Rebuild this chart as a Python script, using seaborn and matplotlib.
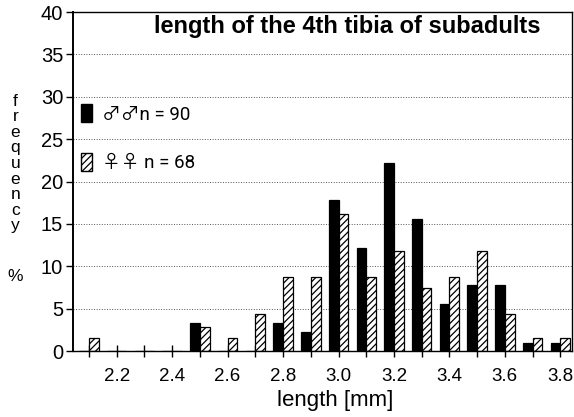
import numpy as np
import pandas as pd
import seaborn as sns
import matplotlib.pyplot as plt
from matplotlib.patches import Patch

# --- data (percent of each sex per length class) ---
bins = ['2.1', '2.2', '2.3', '2.4', '2.5', '2.6', '2.7', '2.8', '2.9',
        '3.0', '3.1', '3.2', '3.3', '3.4', '3.5', '3.6', '3.7', '3.8']
males = [0, 0, 0, 0, 3.3, 0, 0, 3.3, 2.2, 17.8, 12.2, 22.2, 15.6, 5.6, 7.8, 7.8, 1.0, 1.0]
females = [1.5, 0, 0, 0, 2.9, 1.5, 4.4, 8.8, 8.8, 16.2, 8.8, 11.8, 7.4, 8.8, 11.8, 4.4, 1.5, 1.5]
legend_labels = ['\u2642\u2642n = 90', '\u2640\u2640 n = 68']

df = pd.DataFrame({
    'length': bins * 2,
    'pct': males + females,
    'sex': ['m'] * len(bins) + ['f'] * len(bins),
})

sns.set_theme(style='ticks')
plt.rcParams['font.family'] = ['Liberation Sans', 'DejaVu Sans']
plt.rcParams['text.color'] = 'black'
plt.rcParams['axes.labelcolor'] = 'black'
plt.rcParams['hatch.linewidth'] = 0.9

fig = plt.figure(figsize=(5.74, 4.17), dpi=100)
ax = fig.add_axes([0.127, 0.158, 0.870, 0.813])

sns.barplot(data=df, x='length', y='pct', hue='sex', order=bins, hue_order=['m', 'f'],
            palette={'m': 'black', 'f': 'white'}, edgecolor='black', linewidth=0.9,
            saturation=1, width=0.7, legend=False, ax=ax)
for bar in ax.containers[1]:
    bar.set_hatch('/////')

ax.set_xlim(-0.58, 17.43)
ax.set_ylim(0, 40)
ax.set_yticks(range(0, 41, 5))
ax.set_xticks(range(len(bins)))
ax.set_xticklabels([b if i % 2 == 1 else '' for i, b in enumerate(bins)])
ax.tick_params(axis='x', direction='inout', length=9, width=1, labelsize=13.5, pad=8, colors='black')
ax.tick_params(axis='y', direction='out', length=5, width=1, labelsize=14.5, pad=2, colors='black')

ax.yaxis.grid(True, linestyle=':', color='#555555', linewidth=0.7)
ax.set_axisbelow(True)
for side in ['left', 'right', 'top', 'bottom']:
    ax.spines[side].set_visible(True)
    ax.spines[side].set_color('black')
    ax.spines[side].set_linewidth(1.0)
ax.spines['left'].set_linewidth(1.4)

ax.set_xlabel('length [mm]', fontsize=16, labelpad=3)
ax.xaxis.label.set_x(0.525)
ax.set_ylabel('')
fig.text(0.027, 0.608, 'f\nr\ne\nq\nu\ne\nn\nc\ny', ha='center', va='center',
         fontsize=12.5, linespacing=1.05)
fig.text(0.027, 0.336, '%', ha='center', va='center', fontsize=12.5)

ax.text(0.55, 0.958, 'length of the 4th tibia of subadults', transform=ax.transAxes,
        ha='center', va='center', fontsize=17, fontweight='bold')

handles = [Patch(facecolor='black', edgecolor='black'),
           Patch(facecolor='white', edgecolor='black', hatch='/////')]
leg = ax.legend(handles, legend_labels, loc='upper left', bbox_to_anchor=(0.016, 0.728),
                frameon=False, fontsize=13.5, handlelength=0.6, handleheight=1.1,
                handletextpad=0.5, labelspacing=1.55, borderpad=0, borderaxespad=0)
for t in leg.get_texts():
    t.set_fontfamily(['Roboto', 'Noto Sans CJK JP', 'DejaVu Sans'])

fig.savefig('out.png', dpi=100)
